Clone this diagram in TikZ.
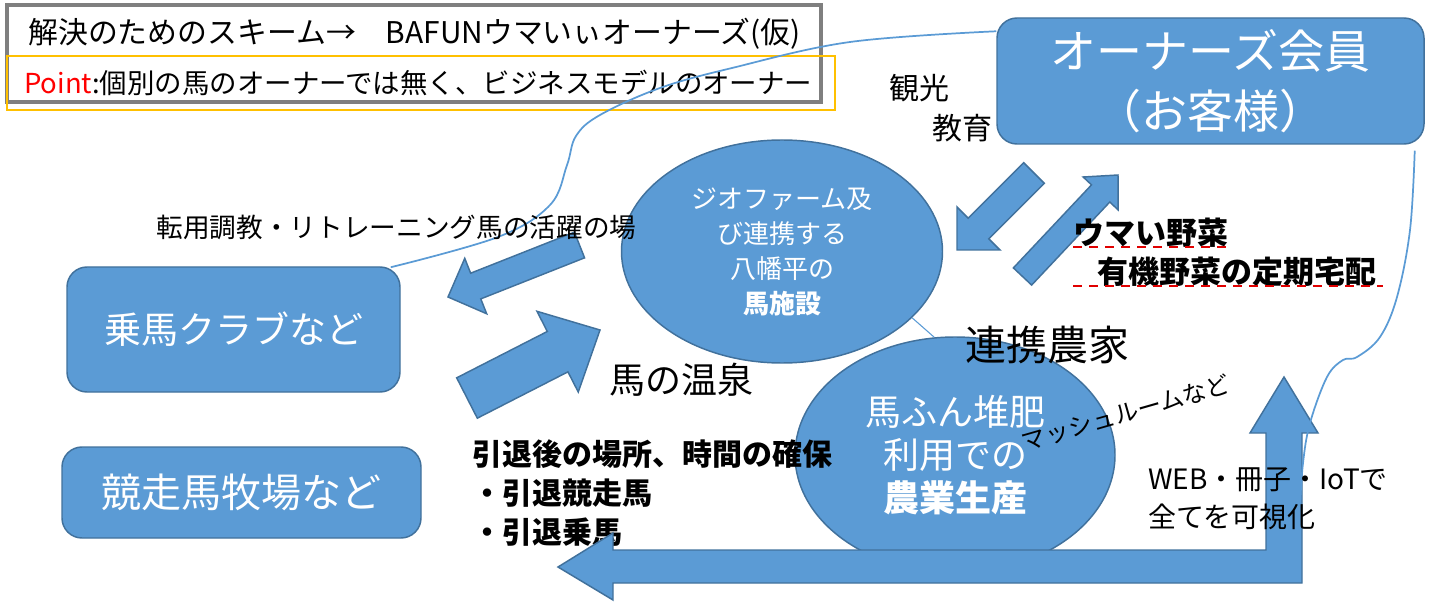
\documentclass[tikz,border=0pt]{standalone}
\usepackage{fontspec}
\setmainfont{Noto Sans CJK JP}
\usetikzlibrary{calc,shapes.geometric}
\definecolor{bfill}{HTML}{5B9BD5}
\definecolor{bline}{HTML}{41719C}
\definecolor{tgray}{HTML}{7F7F7F}
\definecolor{tyel}{HTML}{FFC000}
\definecolor{pred}{HTML}{FF0000}
\definecolor{ulred}{HTML}{E00000}
\newcommand\fsz[2]{\fontsize{#1pt}{#2pt}\selectfont}
% block arrow: #1 name, #2 tail centre, #3 tip, #4 shaft half width, #5 head half width, #6 head length
\newcommand\blockarr[6]{%
  \coordinate (#1t) at #2;
  \coordinate (#1p) at #3;
  \coordinate (#1h) at ($(#1p)!#6!(#1t)$);
  \path[blueshape] ($(#1t)!#4!90:(#1p)$) -- ($(#1h)!#4!90:(#1p)$) -- ($(#1h)!#5!90:(#1p)$) -- (#1p)
     -- ($(#1h)!#5!-90:(#1p)$) -- ($(#1h)!#4!-90:(#1p)$) -- ($(#1t)!#4!-90:(#1p)$) -- cycle;
}
\begin{document}
\begin{tikzpicture}[x=0.75pt,y=-0.75pt,
  blueshape/.style={fill=bfill,draw=bline,line width=1.1pt},
  rbox/.style={blueshape,rounded corners=15pt,inner sep=0pt,text=white,align=center},
  oval/.style={blueshape,ellipse,inner sep=0pt,text=white,align=center},
  thincurve/.style={draw=bfill,line width=1.3pt},
  lbl/.style={inner sep=0pt,text=black},
  ulline/.style={draw=ulred,line width=1.4pt,dash pattern=on 7pt off 5pt}]
\useasboundingbox (0,0) rectangle (1435,602);
% title boxes
\draw[tgray,line width=3.4pt] (7,5) rectangle (821,102);
\draw[tyel,line width=1.1pt] (7,56) rectangle (835,110);
\node[lbl,anchor=west,font=\fsz{22.4}{26}] (title) at (28,34) {解決のためのスキーム→　BAFUNウマいぃオーナーズ(仮)};
\node[lbl,anchor=west,font=\fsz{20.6}{24}] (point) at (24,83) {\textcolor{pred}{Point}:個別の馬のオーナーでは無く、ビジネスモデルのオーナー};
% boxes
\node[rbox,minimum width=249.75pt,minimum height=93.75pt,font=\fsz{27.75}{32}] (club) at (233.5,329.5) {乗馬クラブなど};
\node[rbox,minimum width=269.25pt,minimum height=68.25pt,font=\fsz{30}{34}] (farm) at (241.5,492.5) {競走馬牧場など};
\node[rbox,minimum width=320.25pt,minimum height=94.5pt,font=\fsz{34.5}{45}] (owner) at (1210.5,81) {オーナーズ会員\\（お客様）};
% thin curves ends
\coordinate (cs) at ($(club.north east)+(-10,1)$);
\coordinate (ce) at ($(owner.north west)+(0,14)$);
\coordinate (rs) at ($(owner.south east)+(-10,6)$);
\draw[thincurve] plot[smooth,tension=0.6] coordinates {(cs) (498,237) (550,205) (567,165) (576,136) (600,115) (660,88) (732,68) (850,42) (ce)};
% ellipse 2 and texts under the big arrow
\node[oval,minimum width=240pt,minimum height=177pt,font=\fsz{27}{32.25}] (e2) at (955,455) {馬ふん堆肥\\利用での\\\textbf{農業生産}};
\node[lbl,font=\bfseries\fsz{22.5}{28.9},anchor=west,align=left] (intai) at (472,493) {引退後の場所、時間の確保\\・引退競走馬\\・引退乗馬};
% big L arrow
\path[blueshape] (558,567) -- (613,533) -- (613,550) -- (1266,550) -- (1266,433) -- (1250,433) -- (1284,377)
  -- (1318,433) -- (1302,433) -- (1302,583) -- (613,583) -- (613,600) -- cycle;
% ellipse 1
\node[oval,minimum width=240.75pt,minimum height=167.25pt,font=\fsz{19.5}{26.25}] (e1) at (782,251.5) {ジオファーム及\\び連携する\\八幡平の\\\textbf{馬施設}};
\draw[draw=bfill,line width=0.8pt] (e1.-27) -- (e2.100);
% block arrows
\blockarr{aa}{(1034,173)}{(957,250)}{10.9pt}{22.8pt}{22.8pt}
\blockarr{ab}{(1022.5,276.5)}{(1118,175)}{9.4pt}{18pt}{19pt}
\blockarr{ac}{(579.5,245)}{(448,297)}{10.35pt}{22.35pt}{22.35pt}
\blockarr{ad}{(467,398)}{(600,330)}{17pt}{34pt}{35.7pt}
% right curve
\draw[thincurve] plot[smooth,tension=0.6] coordinates {(rs) (1410,230) (1397,297) (1380,337) (1357,357) (1343,360) (1327,377) (1310,423) (1303,463) (1300,507)};
% labels
\node[lbl,font=\fsz{22.5}{26}] (kanko) at (919,88) {観光};
\node[lbl,font=\fsz{22.5}{26}] (kyoiku) at (962,128) {教育};
\node[lbl,font=\fsz{20}{24}] (tenyo) at (396.5,227) {転用調教・リトレーニング馬の活躍の場};
\node[lbl,font=\fsz{27}{30}] (onsen) at (681.5,380) {馬の温泉};
\node[lbl,font=\fsz{30.75}{34}] (renkei) at (1047.5,345) {連携農家};
\node[lbl,font=\bfseries\fsz{23.25}{28},anchor=west] (yasai1) at (1073,233) {ウマい野菜};
\node[lbl,font=\bfseries\fsz{23.25}{28},anchor=west] (yasai2) at (1097,272) {有機野菜の定期宅配};
\draw[ulline] (1073,247) -- (1226,247);
\draw[ulline] (1073,286) -- (1383,286);
\node[lbl,font=\fsz{18}{22},rotate=16] (mush) at (1126,413) {マッシュルームなど};
\node[lbl,font=\fsz{21}{28.5},anchor=west,align=left] (web) at (1148,499) {WEB・冊子・IoTで\\全てを可視化};
\end{tikzpicture}
\end{document}
